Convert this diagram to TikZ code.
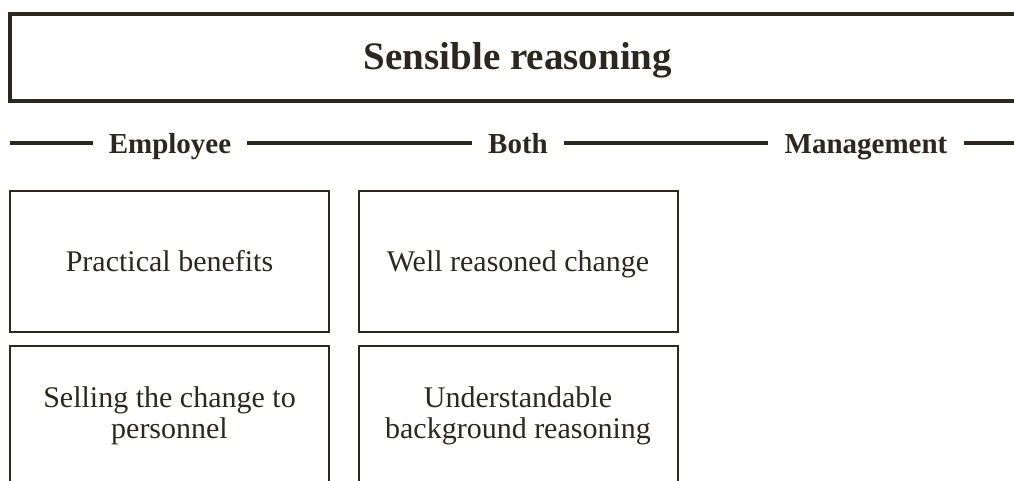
\documentclass[tikz,border=0pt]{standalone}
\usepackage{fontspec}
\setmainfont{Liberation Serif}
\definecolor{ink}{RGB}{44,40,32}
\tikzset{
  every node/.style={text=ink},
  titlebox/.style={draw=ink, line width=4pt, minimum width=1016pt, minimum height=87pt, inner sep=0pt},
  titletext/.style={anchor=base, inner sep=0pt, font=\fontsize{39}{42}\selectfont\bfseries},
  head/.style={anchor=base, inner xsep=16pt, inner ysep=0pt, font=\fontsize{29}{34}\selectfont\bfseries},
  rule/.style={draw=ink, line width=4pt},
  itembox/.style={draw=ink, line width=2pt, minimum width=319pt, minimum height=141pt, inner sep=0pt},
  itemtext/.style={anchor=base, inner sep=0pt, align=center, font=\fontsize{30}{31}\selectfont},
}
\begin{document}
\begin{tikzpicture}[x=1pt,y=-1pt]
\useasboundingbox (0,0) rectangle (1014,480);
\clip (0,0) rectangle (1014,480);
\node[titlebox] (title) at (518,57.5) {};
\node[titletext] (titlet) at (518,69) {Sensible reasoning};
\coordinate (l0) at (10,143);
\coordinate (l4) at (1030,143);
\node[head] (emp) at (170,153) {Employee};
\node[head] (both) at (518,153) {Both};
\node[head] (mgmt) at (866,153) {Management};
\draw[rule] (l0) -- (emp.west |- l0);
\draw[rule] (emp.east |- l0) -- (both.west |- l0);
\draw[rule] (both.east |- l0) -- (mgmt.west |- l0);
\draw[rule] (mgmt.east |- l0) -- (l4);
\node[itembox] (pb) at (169.5,261.5) {};
\node[itembox] (wr) at (518,261.5) {};
\node[itembox] (sc) at (169.5,416.5) {};
\node[itembox] (ub) at (518,416.5) {};
\node[itemtext] (pbt) at (169.5,271) {Practical benefits};
\node[itemtext] (wrt) at (518,271) {Well reasoned change};
\node[itemtext] (sct) at (169.5,438) {Selling the change to\\personnel};
\node[itemtext] (ubt) at (518,438) {Understandable\\background reasoning};
\end{tikzpicture}
\end{document}
